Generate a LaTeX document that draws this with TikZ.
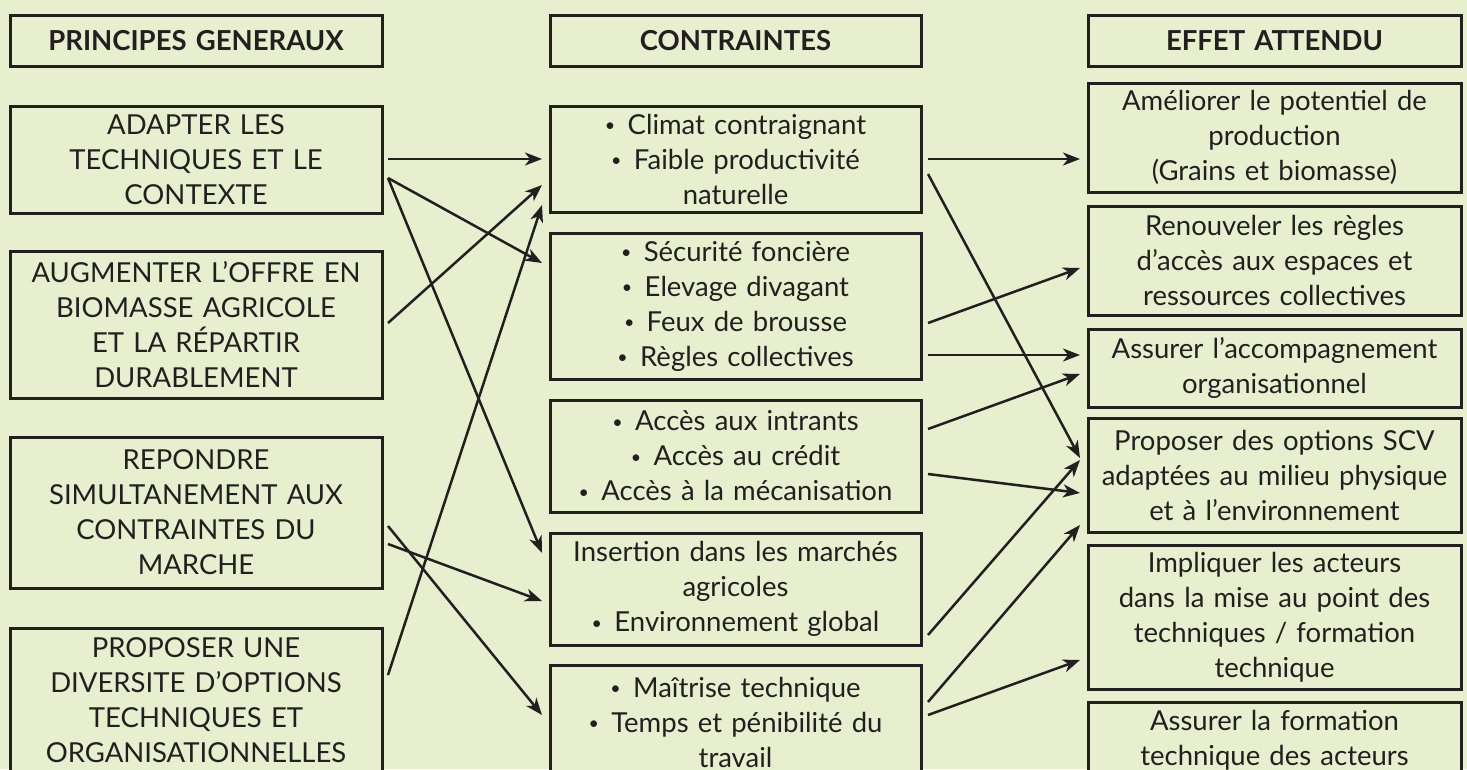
\documentclass[tikz,border=0pt]{standalone}
\usepackage{fontspec}
\setmainfont{Lato}
\usetikzlibrary{arrows.meta,calc}
\definecolor{bg}{RGB}{231,239,206}
\definecolor{ink}{RGB}{35,31,32}
\newcommand{\bul}{\raisebox{2.5pt}{\scalebox{0.65}{\textbullet}}\hspace{0.45em}}
\begin{document}
\begin{tikzpicture}[x=1pt,y=-1pt,
  box/.style={draw=ink, line width=3pt, fill=bg, inner sep=0pt, outer sep=0pt,
    align=center, text=ink, font=\fontsize{27.5}{35}\selectfont},
  lcol/.style={box, minimum width=372pt, text width=366pt},
  mcol/.style={box, minimum width=371pt, text width=366pt},
  rcol/.style={box, minimum width=373pt, text width=370pt},
  head/.style={font=\fontsize{27.5}{35}\selectfont\bfseries, minimum height=51pt},
  arr/.style={draw=ink, line width=2.5pt, -{Stealth[length=17pt,width=13pt,inset=5pt]}}]
\clip (0,0) rectangle (1467,769);
\fill[bg] (0,0) rectangle (1467,769);
% headers
\node[lcol,head] (H1) at (196,40.5) {PRINCIPES GENERAUX};
\node[mcol,head] (H2) at (735.5,40.5) {CONTRAINTES};
\node[rcol,head] (H3) at (1274.5,40.5) {EFFET ATTENDU};
% left column
\node[lcol, minimum height=107pt] (L1) at (196,159.5) {ADAPTER LES\\TECHNIQUES ET LE\\CONTEXTE};
\node[lcol, minimum height=147pt] (L2) at (196,324.5) {AUGMENTER L’OFFRE EN\\BIOMASSE AGRICOLE\\ET LA RÉPARTIR\\DURABLEMENT};
\node[lcol, minimum height=151pt] (L3) at (196,512.5) {REPONDRE\\SIMULTANEMENT AUX\\CONTRAINTES DU\\MARCHE};
\node[lcol, minimum height=144pt] (L4) at (196,700) {PROPOSER UNE\\DIVERSITE D’OPTIONS\\TECHNIQUES ET\\ORGANISATIONNELLES};
% middle column
\node[mcol, minimum height=106pt] (M1) at (735.5,159) {\bul Climat contraignant\\\bul Faible productivité\\naturelle};
\node[mcol, minimum height=146pt] (M2) at (735.5,306) {\bul Sécurité foncière\\\bul Elevage divagant\\\bul Feux de brousse\\\bul Règles collectives};
\node[mcol, minimum height=112pt] (M3) at (735.5,456) {\bul Accès aux intrants\\\bul Accès au crédit\\\bul Accès à la mécanisation};
\node[mcol, minimum height=112pt] (M4) at (735.5,589) {Insertion dans les marchés\\agricoles\\\bul Environnement global};
\node[mcol, minimum height=114pt] (M5) at (735.5,722) {\bul Maîtrise technique\\\bul Temps et pénibilité du\\travail};
% right column
\node[rcol, minimum height=109pt] (R1) at (1274.5,137.5) {Améliorer le potentiel de\\production\\(Grains et biomasse)};
\node[rcol, minimum height=109pt] (R2) at (1274.5,260.5) {Renouveler les règles\\d’accès aux espaces et\\ressources collectives};
\node[rcol, minimum height=78pt] (R3) at (1274.5,368) {Assurer l’accompagnement\\organisationnel};
\node[rcol, minimum height=114pt] (R4) at (1274.5,475) {Proposer des options SCV\\adaptées au milieu physique\\et à l’environnement};
\node[rcol, minimum height=144pt] (R5) at (1274.5,617) {Impliquer les acteurs\\dans la mise au point des\\techniques / formation\\technique};
\node[rcol, minimum height=76pt] (R6) at (1274.5,740) {Assurer la formation\\technique des acteurs};
% left -> middle
\draw[arr] ($(L1.north east)+(6,53)$) -- ($(M1.north west)+(-8,53)$);
\draw[arr] ($(L1.north east)+(6,72)$) -- ($(M2.north west)+(-8,30)$);
\draw[arr] ($(L1.north east)+(6,72)$) -- ($(M4.north west)+(-8,20)$);
\draw[arr] ($(L2.north east)+(6,72)$) -- ($(M1.north west)+(-8,79)$);
\draw[arr] ($(L4.north east)+(6,47)$) -- ($(M1.north west)+(-8,99)$);
\draw[arr] ($(L3.north east)+(6,89)$) -- ($(M5.north west)+(-8,50)$);
\draw[arr] ($(L3.north east)+(6,107)$) -- ($(M4.north west)+(-8,68)$);
% middle -> right
\draw[arr] ($(M1.north east)+(7,53)$) -- ($(R1.north west)+(-8,76)$);
\draw[arr] ($(M1.north east)+(7,68)$) -- ($(R4.north west)+(-8,40)$);
\draw[arr] ($(M2.north east)+(7,90)$) -- ($(R2.north west)+(-8,62)$);
\draw[arr] ($(M2.north east)+(7,122)$) -- ($(R3.north west)+(-8,26)$);
\draw[arr] ($(M3.north east)+(7,29)$) -- ($(R3.north west)+(-8,45)$);
\draw[arr] ($(M3.north east)+(7,74)$) -- ($(R4.north west)+(-8,75)$);
\draw[arr] ($(M4.north east)+(7,102)$) -- ($(R4.north west)+(-8,42)$);
\draw[arr] ($(M5.north east)+(7,37)$) -- ($(R4.north west)+(-8,107)$);
\draw[arr] ($(M5.north east)+(7,50)$) -- ($(R5.north west)+(-8,115)$);
\end{tikzpicture}
\end{document}
